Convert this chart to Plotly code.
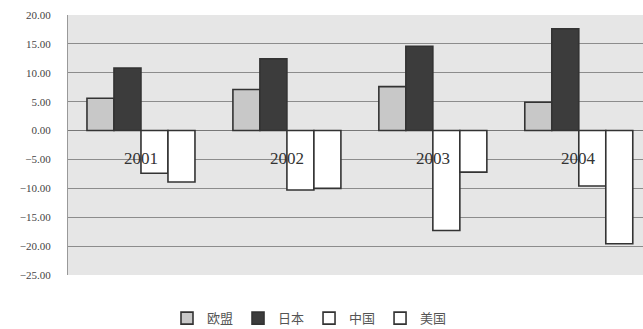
import plotly.graph_objects as go

years = ["2001", "2002", "2003", "2004"]
series_names = ["欧盟", "日本", "中国", "美国"]
eu = [5.6, 7.1, 7.6, 4.9]
japan = [10.8, 12.4, 14.6, 17.6]
china = [-7.4, -10.3, -17.3, -9.6]
usa = [-8.9, -10.0, -7.2, -19.6]
y_ticks = [20, 15, 10, 5, 0, -5, -10, -15, -20, -25]

fills = ["#c8c8c8", "#3c3c3c", "#ffffff", "#ffffff"]
values = [eu, japan, china, usa]

fig = go.Figure()
for name, vals, col in zip(series_names, values, fills):
    fig.add_trace(go.Bar(
        x=years, y=vals, name=name,
        marker=dict(color=col, line=dict(color="#333333", width=1.6)),
    ))

for i, yr in enumerate(years):
    fig.add_annotation(x=i, y=-4.9, xref="x", yref="y", text=yr, showarrow=False,
                       font=dict(family="Liberation Serif", size=17, color="#333333"))

fig.update_layout(
    width=643, height=329,
    margin=dict(l=68, r=0, t=15, b=54),
    paper_bgcolor="white",
    plot_bgcolor="#e6e6e6",
    barmode="group",
    bargap=0.26,
    bargroupgap=0,
    showlegend=True,
    legend=dict(orientation="h", x=0.42, xanchor="center",
                yref="container", y=0.033, yanchor="middle",
                font=dict(family="Noto Sans CJK SC", size=13, color="#555555"),
                itemwidth=30, traceorder="normal"),
    xaxis=dict(type="category", range=[-0.5, 3.44], showticklabels=False, showgrid=False,
               showline=False, zeroline=False, ticks=""),
    yaxis=dict(range=[-25, 20], tickvals=y_ticks, tickformat=".2f",
               showgrid=True, gridcolor="#8c8c8c", gridwidth=1,
               zeroline=True, zerolinecolor="#777777", zerolinewidth=1,
               showline=True, linecolor="#999999", linewidth=1,
               tickfont=dict(family="Liberation Serif", size=11, color="#444444"),
               ticks="outside", ticklen=14, tickcolor="rgba(0,0,0,0)"),
    font=dict(family="Liberation Serif"),
)

fig.write_html("out.html")
